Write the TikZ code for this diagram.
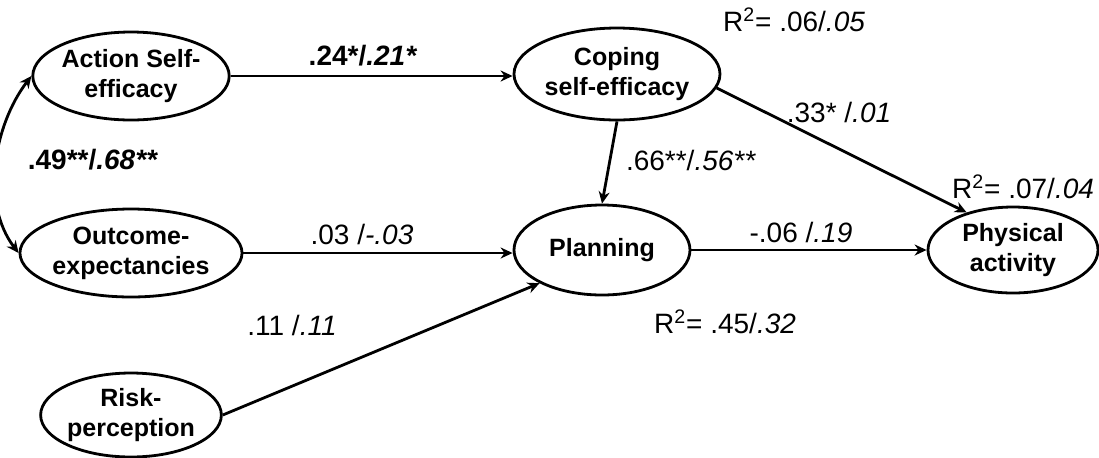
\documentclass[tikz,border=0pt]{standalone}
\usepackage{fontspec}
\setmainfont{Liberation Sans}
\usetikzlibrary{shapes.geometric,arrows.meta}
\begin{document}
\begin{tikzpicture}[x=0.5pt,y=-0.5pt,
  lat/.style={ellipse,draw,line width=1.4pt,inner sep=0pt,align=center,
    font=\fontsize{12.5}{15}\selectfont\bfseries},
  conn/.style={line width=1.4pt,-{Stealth[length=6pt,width=5.5pt]}},
  lab/.style={font=\fontsize{14}{16}\selectfont,inner sep=0pt},
  blab/.style={font=\fontsize{14}{16}\selectfont\bfseries,inner sep=0pt}]
\useasboundingbox (0,0) rectangle (1099,457);
\node[lat,minimum width=176*0.5pt,minimum height=88*0.5pt] (ase) at (131,76) {Action Self-\\efficacy};
\node[lat,minimum width=176*0.5pt,minimum height=88*0.5pt] (oe) at (131,253) {Outcome-\\expectancies};
\node[lat,minimum width=176*0.5pt,minimum height=84*0.5pt] (rp) at (131,415) {Risk-\\perception};
\node[lat,minimum width=206*0.5pt,minimum height=92*0.5pt] (cse) at (617,74) {Coping\\self-efficacy};
\node[lat,minimum width=176*0.5pt,minimum height=90*0.5pt] (plan) at (602,250) {Planning};
\node[lat,minimum width=170*0.5pt,minimum height=86*0.5pt] (pa) at (1013,250) {Physical\\activity};

\draw[conn] (ase.east) -- (ase.east -| cse.west);
\draw[conn] (oe.east) -- (oe.east -| plan.west);
\draw[conn] (rp.east) -- (plan.208);
\draw[conn] (cse.south) -- (plan.north);
\draw[conn] (cse.-8) -- (pa.141);
\draw[conn] (plan.east) -- (plan.east -| pa.west);
\draw[line width=1.4pt,{Stealth[length=6pt,width=5.5pt]}-{Stealth[length=6pt,width=5.5pt]}]
  (ase.west) .. controls +(-38,50) and +(-38,-50) .. (oe.west);

\node[blab] (l1) at (363,56) {.24*/\textit{.21*}};
\node[blab] (l2) at (93,160) {.49**/\textit{.68**}};
\node[lab] (l3) at (362,234) {.03 /\textit{-.03}};
\node[lab] (l4) at (292,325) {.11 /\textit{.11}};
\node[lab] (l5) at (794,20) {R\textsuperscript{2}= .06/\textit{.05}};
\node[lab] (l6) at (839,112) {.33* /\textit{.01}};
\node[lab] (l7) at (691,160) {.66**/\textit{.56**}};
\node[lab] (l8) at (1023,187) {R\textsuperscript{2}= .07/\textit{.04}};
\node[lab] (l9) at (801,232) {-.06 /\textit{.19}};
\node[lab] (l10) at (725,322) {R\textsuperscript{2}= .45/\textit{.32}};
\end{tikzpicture}
\end{document}
